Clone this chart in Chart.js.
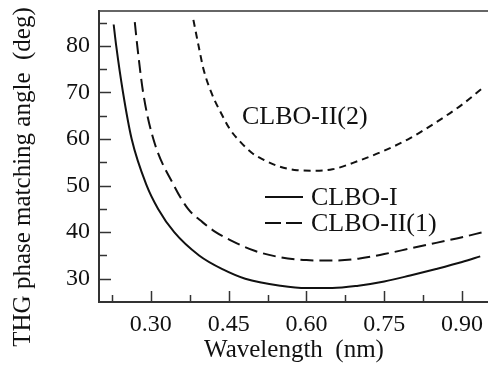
<!DOCTYPE html>
<html>
<head>
<meta charset="utf-8">
<script src="https://cdn.jsdelivr.net/npm/chart.js@4/dist/chart.umd.min.js"></script>
<style>
  html, body { margin: 0; padding: 0; background: #fff; }
  #wrap { width: 488px; height: 377px; position: relative; }
</style>
</head>
<body>
<div id="wrap"><canvas id="c"></canvas></div>
<script>
/* ── Data ──────────────────────────────────────────────────── */
const seriesNames = ['CLBO-I', 'CLBO-II(1)', 'CLBO-II(2)'];

const wlType1    = [0.2283, 0.2332, 0.2463, 0.263, 0.292, 0.314, 0.345, 0.393, 0.439, 0.482, 0.55, 0.60, 0.65, 0.70, 0.75, 0.80, 0.85, 0.90, 0.935];
const angleType1 = [84.6, 80.0, 70.0, 60.0, 50.0, 45.0, 40.0, 35.0, 32.0, 30.0, 28.5, 28.0, 28.0, 28.5, 29.4, 30.7, 32.1, 33.6, 34.8];

const wlType2a    = [0.269, 0.2738, 0.2851, 0.3048, 0.3446, 0.3717, 0.40, 0.425, 0.453, 0.50, 0.55, 0.60, 0.65, 0.70, 0.75, 0.80, 0.85, 0.90, 0.94];
const angleType2a = [85.1, 80.0, 70.0, 60.0, 50.0, 45.0, 42.1, 40.0, 38.3, 36.0, 34.6, 34.0, 33.9, 34.3, 35.3, 36.5, 37.7, 38.9, 40.0];

const wlType2b    = [0.382, 0.392, 0.4015, 0.4165, 0.438, 0.453, 0.4725, 0.495, 0.518, 0.545, 0.582, 0.61, 0.65, 0.70, 0.75, 0.80, 0.85, 0.90, 0.94];
const angleType2b = [85.6, 80.0, 75.0, 70.0, 65.0, 62.0, 59.4, 57.0, 55.5, 54.2, 53.3, 53.2, 53.5, 55.3, 57.5, 60.2, 63.6, 67.4, 71.0];

const xTicks = [0.225, 0.30, 0.375, 0.45, 0.525, 0.60, 0.675, 0.75, 0.825, 0.90];
const xTickLabels = ['', '0.30', '', '0.45', '', '0.60', '', '0.75', '', '0.90'];
const yTicks = [30, 35, 40, 45, 50, 55, 60, 65, 70, 75, 80, 85];
const yTickLabels = ['30', '', '40', '', '50', '', '60', '', '70', '', '80', ''];

const xTitle = 'Wavelength  (nm)';
const yTitle = 'THG phase matching angle  (deg)';

/* ── Style tokens ──────────────────────────────────────────── */
const FONT = "'Liberation Serif', 'Times New Roman', serif";
const INK = '#111';
const AXIS = '#333';

const toPoints = (xs, ys) => xs.map((x, i) => ({ x, y: ys[i] }));

// Inward tick marks, top frame line, legend, in-plot label, axis titles
const decorPlugin = {
  id: 'decor',
  afterDraw(chart) {
    const { ctx, chartArea: a, scales } = chart;
    ctx.save();
    ctx.strokeStyle = AXIS;
    ctx.lineWidth = 1.5;

    // top frame line
    ctx.beginPath();
    ctx.moveTo(a.left, a.top);
    ctx.lineTo(a.right, a.top);
    ctx.stroke();

    // x ticks pointing up into the plot
    xTicks.forEach((v, i) => {
      const px = Math.round(scales.x.getPixelForValue(v)) + 0.5;
      const len = xTickLabels[i] ? 11 : 7;
      ctx.beginPath();
      ctx.moveTo(px, a.bottom);
      ctx.lineTo(px, a.bottom - len);
      ctx.stroke();
    });

    // y ticks pointing right into the plot
    yTicks.forEach((v, i) => {
      const py = Math.round(scales.y.getPixelForValue(v)) + 0.5;
      const len = yTickLabels[i] ? 12 : 8;
      ctx.beginPath();
      ctx.moveTo(a.left, py);
      ctx.lineTo(a.left + len, py);
      ctx.stroke();
    });

    // legend for the first two series
    ctx.fillStyle = INK;
    ctx.font = `26px ${FONT}`;
    ctx.textBaseline = 'middle';
    ctx.textAlign = 'left';
    const rows = [{ ds: 0, y: 197, dash: [] }, { ds: 1, y: 223, dash: [16, 5] }];
    rows.forEach(r => {
      const ds = chart.data.datasets[r.ds];
      ctx.strokeStyle = INK;
      ctx.lineWidth = 2;
      ctx.setLineDash(r.dash);
      ctx.beginPath();
      ctx.moveTo(265, r.y);
      ctx.lineTo(303, r.y);
      ctx.stroke();
      ctx.setLineDash([]);
      ctx.fillText(ds.label, 311, r.y + 1);
    });

    // in-plot label for the third series
    ctx.textBaseline = 'alphabetic';
    ctx.fillText(seriesNames[2], 242, 124);

    // axis titles
    ctx.font = `25px ${FONT}`;
    ctx.textAlign = 'center';
    ctx.fillText(xTitle, 294, 357);
    ctx.translate(30, 177);
    ctx.rotate(-Math.PI / 2);
    ctx.fillText(yTitle, 0, 0);
    ctx.restore();
  },
};

const lineDefaults = {
  showLine: true,
  pointRadius: 0,
  borderColor: INK,
  borderWidth: 2,
  fill: false,
  cubicInterpolationMode: 'monotone',
};

new Chart(document.getElementById('c'), {
  type: 'scatter',
  data: {
    datasets: [
      { ...lineDefaults, label: seriesNames[0], data: toPoints(wlType1, angleType1) },
      { ...lineDefaults, label: seriesNames[1], data: toPoints(wlType2a, angleType2a), borderDash: [13, 6] },
      { ...lineDefaults, label: seriesNames[2], data: toPoints(wlType2b, angleType2b), borderDash: [7, 5] },
    ],
  },
  options: {
    responsive: true,
    maintainAspectRatio: false,
    animation: false,
    layout: { padding: { top: 11, right: 0, left: 0, bottom: 0 } },
    plugins: {
      legend: { display: false },
      tooltip: { enabled: false },
    },
    scales: {
      x: {
        type: 'linear',
        min: 0.20,
        max: 0.95,
        afterBuildTicks: (s) => { s.ticks = xTicks.map(v => ({ value: v })); },
        afterFit: (s) => { s.height = 75; s.paddingLeft = 0; s.paddingRight = 0; },
        grid: { display: false, drawTicks: false },
        border: { display: true, color: AXIS, width: 2 },
        ticks: {
          autoSkip: false,
          maxRotation: 0,
          padding: 8,
          color: INK,
          font: { family: FONT, size: 24 },
          callback: (v, i) => xTickLabels[i],
        },
      },
      y: {
        type: 'linear',
        min: 25,
        max: 87.5,
        afterBuildTicks: (s) => { s.ticks = yTicks.map(v => ({ value: v })); },
        afterFit: (s) => { s.width = 99; s.paddingTop = 0; s.paddingBottom = 0; },
        grid: { display: false, drawTicks: false },
        border: { display: true, color: AXIS, width: 2 },
        ticks: {
          autoSkip: false,
          padding: 9,
          color: INK,
          font: { family: FONT, size: 24 },
          callback: (v, i) => yTickLabels[i],
        },
      },
    },
  },
  plugins: [decorPlugin],
});
</script>
</body>
</html>
